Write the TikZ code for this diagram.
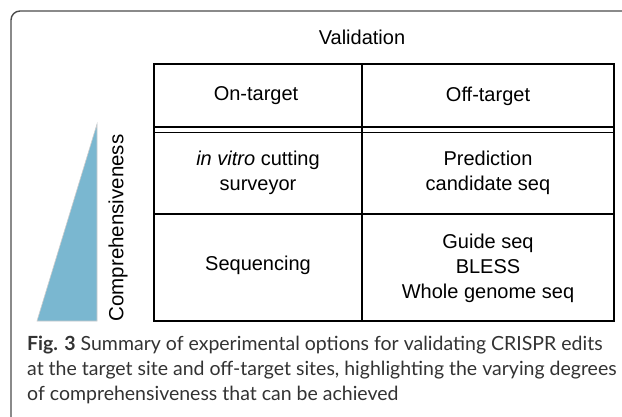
\documentclass[tikz,border=0pt]{standalone}
\usepackage{fontspec}
\setmainfont{Liberation Sans}
\newfontfamily\capfont{Lato}
\begin{document}
\begin{tikzpicture}[x=1pt,y=-1pt,
  cell/.style={align=center,font=\fontsize{20}{25}\selectfont},
  grid/.style={line width=1.8pt,black},
  frame/.style={draw=black!70,line width=1.4pt,rounded corners=9pt},
  captext/.style={anchor=west,inner sep=0pt,text=black!80,font=\capfont\fontsize{19.5}{25}\selectfont}]
\useasboundingbox (0,0) rectangle (622,417);
\clip (0,0) rectangle (622,417);
\fill[white] (0,0) rectangle (622,417);
\draw[frame] (11,11) rectangle (700,440);
% table
\draw[grid] (154,64) rectangle (614,321);
\draw[grid] (362,64) -- (362,321);
\draw[grid] (154,127) -- (614,127);
\draw[grid] (154,132.5) -- (614,132.5);
\draw[grid] (154,214) -- (614,214);
\node[cell] (val) at (362,37) {Validation};
\node[cell] (on) at (256,96) {On-target};
\node[cell] (off) at (488,96) {Off-target};
\node[cell] (c11) at (258,173) {\textit{in vitro} cutting\\surveyor};
\node[cell] (c12) at (488,173) {Prediction\\candidate seq};
\node[cell] (c21) at (258,265) {Sequencing};
\node[cell] (c22) at (488,268) {Guide seq\\BLESS\\Whole genome seq};
% triangle
\filldraw[fill={rgb,255:red,122;green,183;blue,208},draw=black!20,line width=0.6pt] (37,321) -- (97,124) -- (97,321) -- cycle;
\node[cell,rotate=90,font=\fontsize{20.5}{25}\selectfont] (comp) at (118,228) {Comprehensiveness};
% caption
\node[captext] (cap1) at (27,345) {\textbf{Fig. 3} Summary of experimental options for validating CRISPR edits};
\node[captext] (cap2) at (27,370) {at the target site and off-target sites, highlighting the varying degrees};
\node[captext] (cap3) at (27,395) {of comprehensiveness that can be achieved};
\end{tikzpicture}
\end{document}
